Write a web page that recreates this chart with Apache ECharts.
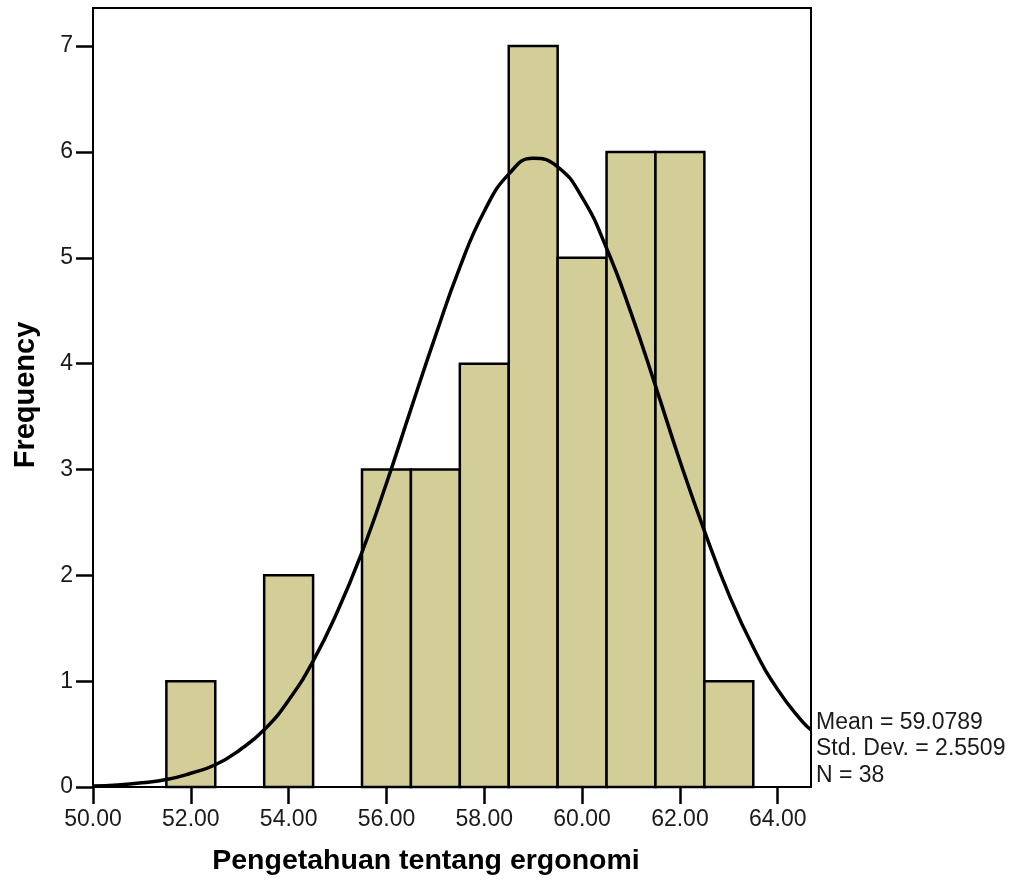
<!DOCTYPE html>
<html>
<head>
<meta charset="utf-8">
<script src="https://cdn.jsdelivr.net/npm/echarts@6/dist/echarts.min.js"></script>
<style>
html,body{margin:0;padding:0;background:#fff;}
#c{width:1016px;height:883px;}
</style>
</head>
<body>
<div id="c"></div>
<script>
// Histogram bins (centre of each 1-unit bin) and frequencies
var binCenters = [52, 54, 56, 57, 58, 59, 60, 61, 62, 63];
var frequencies = [1, 2, 3, 3, 4, 7, 5, 6, 6, 1];
// Normal curve
var curveX = [50, 50.5, 51, 51.5, 52, 52.5, 53, 53.5, 54, 54.5, 55, 55.5, 56, 56.5, 57, 57.5, 58, 58.5, 59, 59.5, 60, 60.5, 61, 61.5, 62, 62.5, 63, 63.5, 64, 64.5, 64.68];
var curveY = [0.01, 0.02, 0.04, 0.07, 0.13, 0.21, 0.35, 0.54, 0.82, 1.19, 1.66, 2.22, 2.87, 3.57, 4.26, 4.91, 5.44, 5.79, 5.94, 5.86, 5.57, 5.09, 4.48, 3.79, 3.08, 2.42, 1.82, 1.32, 0.92, 0.62, 0.54];
var xTicks = [50, 52, 54, 56, 58, 60, 62, 64];
var yTicks = [0, 1, 2, 3, 4, 5, 6, 7];
var statLines = ['Mean = 59.0789', 'Std. Dev. = 2.5509', 'N = 38'];
var xTitle = 'Pengetahuan tentang ergonomi';
var yTitle = 'Frequency';

var chart = echarts.init(document.getElementById('c'), null, {renderer: 'canvas'});
var font = 'Liberation Sans, Arial, sans-serif';
var barData = binCenters.map(function (c, i) { return [c, frequencies[i]]; });
var lineData = curveX.map(function (x, i) { return [x, curveY[i]]; });

chart.setOption({
  animation: false,
  backgroundColor: '#fff',
  grid: {left: 93, right: 205, top: 8, bottom: 96, show: true, borderColor: '#000', borderWidth: 2, backgroundColor: '#fff'},
  xAxis: {
    type: 'value', min: 50, max: 64.68,
    axisLine: {show: true, lineStyle: {color: '#000', width: 2}},
    axisTick: {show: true, length: 17, lineStyle: {color: '#000', width: 2.5}, customValues: xTicks},
    axisLabel: {customValues: xTicks, color: '#1a1a1a', fontSize: 23, fontFamily: font, margin: 21,
      formatter: function (v) { return v.toFixed(2); }},
    splitLine: {show: false}
  },
  yAxis: {
    type: 'value', min: 0, max: 7.36,
    axisLine: {show: true, lineStyle: {color: '#000', width: 2}},
    axisTick: {show: true, length: 17, lineStyle: {color: '#000', width: 2.5}, customValues: yTicks},
    axisLabel: {customValues: yTicks, color: '#1a1a1a', fontSize: 23, fontFamily: font, margin: 20},
    splitLine: {show: false}
  },
  series: [
    {
      type: 'custom',
      data: barData,
      z: 2,
      renderItem: function (params, api) {
        var x = api.value(0), y = api.value(1);
        var p0 = api.coord([x - 0.5, y]);
        var p1 = api.coord([x + 0.5, 0]);
        return {
          type: 'rect',
          shape: {x: p0[0], y: p0[1], width: p1[0] - p0[0], height: p1[1] - p0[1]},
          style: {fill: '#D3CE97', stroke: '#000', lineWidth: 2.5}
        };
      }
    },
    {
      type: 'line',
      data: lineData,
      smooth: true,
      symbol: 'none',
      z: 3,
      lineStyle: {color: '#000', width: 3.5}
    }
  ],
  graphic: [
    {type: 'text', left: 816, top: 709, z: 10,
      style: {text: statLines.join('\n'), font: '23px ' + font, fill: '#1a1a1a', lineHeight: 26.5}},
    {type: 'text', x: 426, y: 861, z: 10,
      style: {text: xTitle, font: 'bold 28.5px ' + font, fill: '#000', textAlign: 'center', textVerticalAlign: 'middle'}},
    {type: 'text', x: 26, y: 395, rotation: Math.PI / 2, z: 10,
      style: {text: yTitle, font: 'bold 29px ' + font, fill: '#000', textAlign: 'center', textVerticalAlign: 'middle'}}
  ]
});
</script>
</body>
</html>
